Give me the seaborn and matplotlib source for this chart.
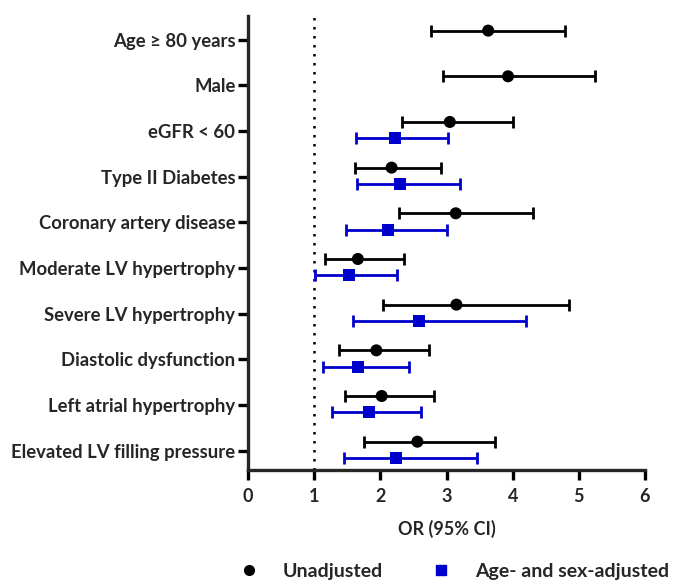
import numpy as np
import pandas as pd
import matplotlib
matplotlib.use("Agg")
import matplotlib.pyplot as plt
import seaborn as sns
from matplotlib.lines import Line2D

categories = ["Age \u2265 80 years", "Male", "eGFR < 60", "Type II Diabetes",
              "Coronary artery disease", "Moderate LV hypertrophy",
              "Severe LV hypertrophy", "Diastolic dysfunction",
              "Left atrial hypertrophy", "Elevated LV filling pressure"]

unadj_or = [3.63, 3.93, 3.05, 2.17, 3.14, 1.66, 3.15, 1.94, 2.02, 2.56]
unadj_lo = [2.76, 2.94, 2.33, 1.61, 2.28, 1.17, 2.04, 1.37, 1.46, 1.75]
unadj_hi = [4.79, 5.24, 4.01, 2.91, 4.31, 2.36, 4.85, 2.74, 2.81, 3.74]

adj_or = [np.nan, np.nan, 2.22, 2.29, 2.11, 1.52, 2.58, 1.66, 1.83, 2.24]
adj_lo = [np.nan, np.nan, 1.63, 1.65, 1.48, 1.02, 1.59, 1.13, 1.27, 1.45]
adj_hi = [np.nan, np.nan, 3.03, 3.20, 3.01, 2.25, 4.20, 2.43, 2.61, 3.46]

series = ["Unadjusted", "Age- and sex-adjusted"]
x_ticks = [0, 1, 2, 3, 4, 5, 6]

sns.set_style("ticks")
plt.rcParams['font.family'] = ['Lato', 'DejaVu Sans']
plt.rcParams['font.weight'] = 'bold'

rows = []
offsets = {series[0]: -0.2, series[1]: 0.16}
for i, c in enumerate(categories):
    rows.append(dict(cat=c, idx=i, series=series[0], OR=unadj_or[i], lo=unadj_lo[i], hi=unadj_hi[i]))
    rows.append(dict(cat=c, idx=i, series=series[1], OR=adj_or[i], lo=adj_lo[i], hi=adj_hi[i]))
df = pd.DataFrame(rows).dropna()
df["y"] = df["idx"] + df["series"].map(offsets)

colors = {series[0]: "black", series[1]: "#0000CC"}
markers = {series[0]: "o", series[1]: "s"}

fig = plt.figure(figsize=(6.75, 5.81), dpi=100)
ax = fig.add_axes([248/675, 1-470/581, (645-248)/675, (470-16)/581])

ax.axvline(1, color="black", linestyle=(0, (1, 2.6)), linewidth=1.8, zorder=1)

for s in series:
    d = df[df["series"] == s]
    ax.errorbar(d["OR"], d["y"], xerr=[d["OR"] - d["lo"], d["hi"] - d["OR"]],
                fmt="none", ecolor=colors[s], elinewidth=2.0, capsize=4,
                capthick=2.0, zorder=2)

sns.scatterplot(data=df, x="OR", y="y", hue="series", style="series",
                palette=colors, markers=markers, s=75, edgecolor="none",
                legend=False, ax=ax, zorder=3)

ax.set_xlim(0, 6)
ax.set_ylim(9.42, -0.52)
ax.set_xticks(x_ticks)
ax.set_xticklabels([str(t) for t in x_ticks], fontsize=13, fontweight="bold")
ax.set_yticks(range(len(categories)))
ax.set_yticklabels(categories, fontsize=13.3, fontweight="bold")
ax.set_xlabel("OR (95% CI)", fontsize=13, fontweight="bold", labelpad=11)
ax.set_ylabel("")

for sp in ["top", "right"]:
    ax.spines[sp].set_visible(False)
for sp in ["left", "bottom"]:
    ax.spines[sp].set_linewidth(2.4)
ax.tick_params(axis="both", width=2.4, length=7, color="black")
ax.tick_params(axis="x", pad=6)
ax.tick_params(axis="y", pad=2)

handles = [Line2D([], [], linestyle="none", marker="o", color="black", markersize=7),
           Line2D([], [], linestyle="none", marker="s", color="#0000CC", markersize=6.5)]
fig.legend(handles, series, loc="center left", bbox_to_anchor=(0.328, 0.017), ncol=2,
           frameon=False, prop={"size": 14, "weight": "bold"}, columnspacing=2.5,
           handlelength=1.0, handletextpad=1.25)

fig.savefig("out.png", dpi=100)
